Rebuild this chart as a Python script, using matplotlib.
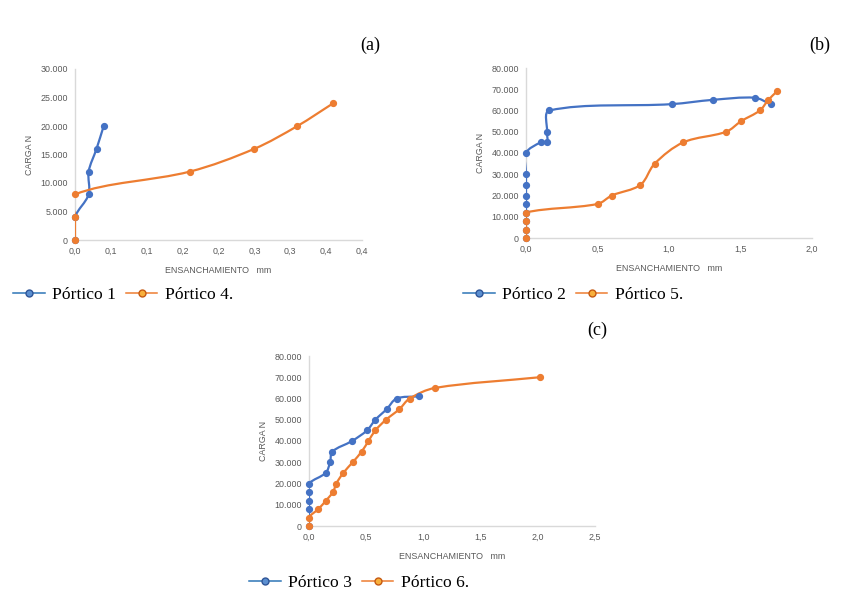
import numpy as np
import matplotlib
matplotlib.use("Agg")
import matplotlib.pyplot as plt
from matplotlib.path import Path
from matplotlib.patches import PathPatch
from matplotlib.lines import Line2D

# (a) Pórtico 1 / Pórtico 4
p1_x = [0.0, 0.0, 0.019, 0.019, 0.030, 0.040]
p1_y = [0, 4000, 8000, 12000, 16000, 20000]
p4_x = [0.0, 0.0, 0.0, 0.16, 0.25, 0.31, 0.36]
p4_y = [0, 4000, 8000, 12000, 16000, 20000, 24000]

# (b) Pórtico 2 / Pórtico 5
p2_x = [0.0, 0.0, 0.0, 0.0, 0.0, 0.0, 0.0, 0.0, 0.0, 0.103, 0.147, 0.147, 0.163,
        1.02, 1.305, 1.60, 1.71]
p2_y = [0, 4000, 8000, 12000, 16000, 20000, 25000, 30000, 40000, 45000, 45000,
        50000, 60000, 63000, 65000, 66000, 63000]
p5_x = [0.0, 0.0, 0.0, 0.0, 0.50, 0.60, 0.80, 0.90, 1.10, 1.40, 1.505, 1.635,
        1.695, 1.755]
p5_y = [0, 4000, 8000, 12000, 16000, 20000, 25000, 35000, 45000, 50000, 55000,
        60000, 65000, 69000]

# (c) Pórtico 3 / Pórtico 6
p3_x = [0.0, 0.0, 0.0, 0.0, 0.0, 0.146, 0.184, 0.204, 0.376, 0.507, 0.58,
        0.679, 0.766, 0.96]
p3_y = [0, 8000, 12000, 16000, 20000, 25000, 30000, 35000, 40000, 45000,
        50000, 55000, 60000, 61000]
p6_x = [0.0, 0.0, 0.082, 0.149, 0.21, 0.239, 0.30, 0.382, 0.46, 0.52, 0.58,
        0.673, 0.79, 0.88, 1.104, 2.016]
p6_y = [0, 4000, 8000, 12000, 16000, 20000, 25000, 30000, 35000, 40000, 45000,
        50000, 55000, 60000, 65000, 70000]

xticks_a = [0, 0.05, 0.10, 0.15, 0.20, 0.25, 0.30, 0.35, 0.40]
xlabels_a = ["0,0", "0,1", "0,1", "0,2", "0,2", "0,3", "0,3", "0,4", "0,4"]
xticks_b = [0, 0.5, 1.0, 1.5, 2.0]
xlabels_b = ["0,0", "0,5", "1,0", "1,5", "2,0"]
xticks_c = [0, 0.5, 1.0, 1.5, 2.0, 2.5]
xlabels_c = ["0,0", "0,5", "1,0", "1,5", "2,0", "2,5"]
yticks_a = [0, 5000, 10000, 15000, 20000, 25000, 30000]
ylabels_a = ["0", "5.000", "10.000", "15.000", "20.000", "25.000", "30.000"]
yticks_bc = [0, 10000, 20000, 30000, 40000, 50000, 60000, 70000, 80000]
ylabels_bc = ["0", "10.000", "20.000", "30.000", "40.000", "50.000", "60.000",
              "70.000", "80.000"]

BLUE = "#4472C4"
ORANGE = "#ED7D31"
GRAY = "#595959"
W, H = 846, 599

fig = plt.figure(figsize=(W / 100, H / 100), dpi=100)


def make_axes(x0, x1, y0, y1):
    # pixel box -> figure fraction
    return fig.add_axes([x0 / W, 1 - y0 / H, (x1 - x0) / W, (y0 - y1) / H])


def smooth_line(ax, xs, ys, color):
    # excel-like smoothed line: cubic bezier with chord-scaled tangents (in pixels)
    pts = ax.transData.transform(np.column_stack([xs, ys]))
    n = len(pts)
    verts = [pts[0]]
    codes = [Path.MOVETO]
    t = 1 / 3
    for i in range(n - 1):
        p0 = pts[max(i - 1, 0)]
        p1 = pts[i]
        p2 = pts[i + 1]
        p3 = pts[min(i + 2, n - 1)]
        d01 = np.hypot(*(p1 - p0))
        d12 = np.hypot(*(p2 - p1))
        d23 = np.hypot(*(p3 - p2))
        f1 = d12 / (d01 + d12) if d01 + d12 > 0 else 0
        f2 = d12 / (d12 + d23) if d12 + d23 > 0 else 0
        c1 = p1 + (p2 - p0) * t * f1
        c2 = p2 - (p3 - p1) * t * f2
        verts += [c1, c2, p2]
        codes += [Path.CURVE4] * 3
    verts = ax.transData.inverted().transform(np.array(verts))
    ax.add_patch(PathPatch(Path(verts, codes), fill=False, edgecolor=color,
                           lw=1.6, capstyle="round", joinstyle="round", zorder=3))
    ax.plot(xs, ys, "o", color=color, ms=4.2, mec=color, zorder=4, clip_on=False)


def style(ax, xmax, ymax, xt, xl, yt, yl):
    ax.set_xlim(0, xmax)
    ax.set_ylim(0, ymax)
    for s in ["top", "right"]:
        ax.spines[s].set_visible(False)
    for s in ["left", "bottom"]:
        ax.spines[s].set_color("#D9D9D9")
        ax.spines[s].set_linewidth(1.0)
    ax.set_xticks(xt)
    ax.set_xticklabels(xl)
    ax.set_yticks(yt)
    ax.set_yticklabels(yl)
    ax.tick_params(length=0, labelsize=6.4, labelcolor=GRAY, pad=5)
    ax.set_xlabel("ENSANCHAMIENTO   mm", fontsize=6.4, color=GRAY, labelpad=7)
    ax.set_ylabel("CARGA N", fontsize=6.4, color=GRAY, labelpad=5)
    for lab in ax.get_xticklabels() + ax.get_yticklabels():
        lab.set_family("Liberation Sans")
    ax.xaxis.label.set_family("Liberation Sans")
    ax.yaxis.label.set_family("Liberation Sans")


def legend(labels, x, y):
    handles = [
        Line2D([], [], color="#2E75B6", lw=1.1, marker="o", ms=5,
               mfc="#5B8FD0", mec="#2F5597", mew=1.0),
        Line2D([], [], color=ORANGE, lw=1.1, marker="o", ms=5,
               mfc="#F7B03C", mec="#C65911", mew=1.0),
    ]
    fig.legend(handles, labels, loc="center left",
               bbox_to_anchor=(x / W, 1 - y / H), ncol=2, frameon=False,
               prop={"family": "Liberation Serif", "size": 12.6},
               handlelength=1.8, handletextpad=0.45, columnspacing=0.55,
               borderpad=0, borderaxespad=0)


ax_a = make_axes(75, 362, 240, 69)
style(ax_a, 0.4, 30000, xticks_a, xlabels_a, yticks_a, ylabels_a)
smooth_line(ax_a, p1_x, p1_y, BLUE)
smooth_line(ax_a, p4_x, p4_y, ORANGE)

ax_b = make_axes(526, 812, 238, 68)
style(ax_b, 2.0, 80000, xticks_b, xlabels_b, yticks_bc, ylabels_bc)
smooth_line(ax_b, p2_x, p2_y, BLUE)
smooth_line(ax_b, p5_x, p5_y, ORANGE)

ax_c = make_axes(309, 595, 526, 356)
style(ax_c, 2.5, 80000, xticks_c, xlabels_c, yticks_bc, ylabels_bc)
smooth_line(ax_c, p3_x, p3_y, BLUE)
smooth_line(ax_c, p6_x, p6_y, ORANGE)

legend(["Pórtico 1", "Pórtico 4."], 13, 295)
legend(["Pórtico 2", "Pórtico 5."], 463, 295)
legend(["Pórtico 3", "Pórtico 6."], 249, 583)

for txt, x, y in [("(a)", 370, 45), ("(b)", 820, 45), ("(c)", 597, 330)]:
    fig.text(x / W, 1 - y / H, txt, ha="center", va="center",
             family="Liberation Serif", fontsize=13)

fig.savefig("out.png", dpi=100)
